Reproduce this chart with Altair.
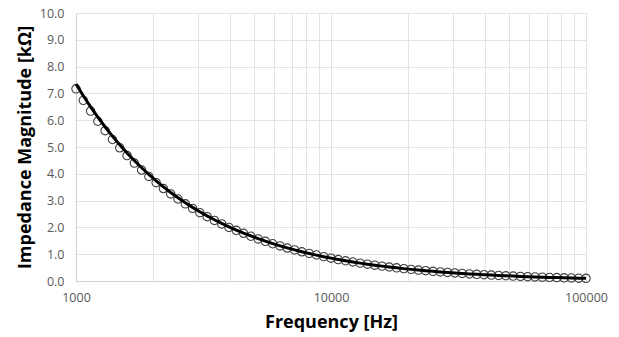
import altair as alt
import pandas as pd

# Frequencies (Hz), log-spaced
freq_hz = [1000, 1068, 1141, 1218, 1301, 1389, 1484, 1585, 1693, 1808, 1931, 2062, 2202, 2352,
           2512, 2683, 2865, 3060, 3268, 3490, 3728, 3981, 4252, 4541, 4850, 5179, 5532, 5908,
           6310, 6739, 7197, 7686, 8209, 8767, 9363, 10000,
           10680, 11406, 12182, 13011, 13895, 14840, 15849, 16927, 18078, 19307, 20620, 22022,
           23520, 25119, 26827, 28651, 30600, 32681, 34903, 37276, 39811, 42517, 45409, 48497,
           51795, 55317, 59078, 63096, 67386, 71969, 76862, 82089, 87671, 93633, 100000]

# Measured impedance magnitude (kOhm) - circles
measured_kohm = [7.17, 6.74, 6.34, 5.96, 5.61, 5.28, 4.97, 4.68, 4.40, 4.14, 3.90, 3.67, 3.45, 3.25,
                 3.06, 2.88, 2.71, 2.55, 2.40, 2.26, 2.13, 2.00, 1.89, 1.78, 1.67, 1.57, 1.48, 1.39,
                 1.31, 1.23, 1.16, 1.09, 1.03, 0.97, 0.91, 0.85,
                 0.80, 0.755, 0.71, 0.667, 0.628, 0.59, 0.555, 0.522, 0.491, 0.462, 0.434, 0.408,
                 0.384, 0.361, 0.339, 0.319, 0.30, 0.282, 0.265, 0.249, 0.235, 0.221, 0.207, 0.195,
                 0.183, 0.172, 0.162, 0.152, 0.143, 0.135, 0.127, 0.119, 0.112, 0.105, 0.099]

# Model curve (kOhm) - solid line
model_kohm = [7.350, 6.912, 6.499, 6.112, 5.747, 5.404, 5.082, 4.779, 4.494, 4.226, 3.974, 3.737,
              3.514, 3.304, 3.107, 2.922, 2.748, 2.584, 2.430, 2.285, 2.148, 2.020, 1.900, 1.786,
              1.680, 1.580, 1.485, 1.397, 1.313, 1.235, 1.161, 1.092, 1.027, 0.966, 0.908, 0.854,
              0.803, 0.755, 0.710, 0.667, 0.628, 0.590, 0.555, 0.522, 0.491, 0.462, 0.434, 0.408,
              0.384, 0.361, 0.339, 0.319, 0.300, 0.282, 0.265, 0.249, 0.235, 0.221, 0.207, 0.195,
              0.183, 0.172, 0.162, 0.152, 0.143, 0.135, 0.127, 0.119, 0.112, 0.105, 0.099]

x_grid = [1000, 2000, 3000, 4000, 5000, 6000, 7000, 8000, 9000,
          10000, 20000, 30000, 40000, 50000, 60000, 70000, 80000, 90000, 100000]
y_ticks = [0, 1, 2, 3, 4, 5, 6, 7, 8, 9, 10]

df = pd.DataFrame({"f": freq_hz, "meas": measured_kohm, "model": model_kohm})

FONT = "Open Sans"
LABEL_COLOR = "#595959"
GRID = "#e3e3e3"

x_scale = alt.Scale(type="log", domain=[1000, 100000], nice=False)
x_axis = alt.Axis(values=x_grid, format="d",
                  labelExpr="(datum.value == 1000 || datum.value == 10000 || datum.value == 100000) ? datum.label : ''",
                  title="Frequency [Hz]", titleFont=FONT, titleFontSize=18, titleFontWeight="bold",
                  titleColor="#000000", titleY=41, titleBaseline="middle",
                  labelFont=FONT, labelFontSize=12.5, labelColor=LABEL_COLOR, labelPadding=10,
                  ticks=False, grid=True, gridColor=GRID, domainColor="#d0d0d0",
                  labelFlush=False, labelOverlap=False)

y_scale = alt.Scale(domain=[0, 10], nice=False)
y_axis = alt.Axis(values=y_ticks, format=".1f", title="Impedance Magnitude [kΩ]",
                  titleFont=FONT, titleFontSize=18, titleFontWeight="bold", titleColor="#000000",
                  titleX=-51, titleY=134, titleBaseline="middle", titleAngle=-90,
                  labelFont=FONT, labelFontSize=12.5, labelColor=LABEL_COLOR, labelPadding=12,
                  labelOverlap=False, labelFlush=False,
                  ticks=False, grid=True, gridColor=GRID, domainColor="#d0d0d0")

points = alt.Chart(df).mark_point(shape="circle", filled=False, size=70, strokeWidth=1.1,
                                  color="#404040", opacity=1).encode(
    x=alt.X("f:Q", scale=x_scale, axis=x_axis),
    y=alt.Y("meas:Q", scale=y_scale, axis=y_axis))

line = alt.Chart(df).mark_line(color="#000000", strokeWidth=3).encode(
    x=alt.X("f:Q", scale=x_scale, axis=x_axis),
    y=alt.Y("model:Q", scale=y_scale, axis=y_axis))

chart = alt.layer(points, line).properties(
    width=510, height=268,
    padding={"left": 76, "top": 13, "right": 33, "bottom": 56},
    autosize=alt.AutoSizeParams(type="none"),
    background="white"
).configure_view(stroke=None)

chart.save("out.html", embed_options={"renderer": "svg", "actions": False})
